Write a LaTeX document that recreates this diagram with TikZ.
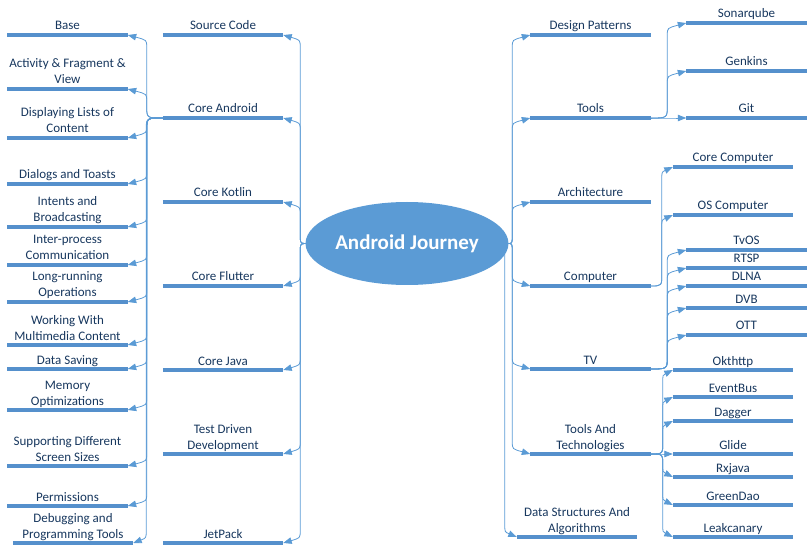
\documentclass[tikz,border=0pt]{standalone}
\usepackage{fontspec}
\setmainfont{Carlito}
\usetikzlibrary{arrows.meta,calc,shapes.geometric}

\definecolor{ink}{HTML}{17375E}
\definecolor{barblue}{HTML}{5590CC}
\definecolor{linkblue}{HTML}{5B9BD5}

\tikzset{
  bar/.style={draw=barblue, line width=4pt},
  topic/.style={anchor=south, align=center, text=ink,
    font=\fontsize{13}{16}\selectfont, inner xsep=0pt, inner ysep=4.8pt,
    text depth=0pt, minimum width=120pt,
    append after command={(\tikzlastnode.south west) edge[bar] (\tikzlastnode.south east)}},
  branch/.style={draw=linkblue, line width=0.8pt, -{Triangle[length=8.5pt,width=6.5pt]},
    to path={let \p1=(\tikztostart), \p2=(\tikztotarget),
      \n1={sign(\y2-(\y1))}, \n2={sign(\x2-(\x1))} in
      (\p1) .. controls ({\x2-(\n2)*#1},{\y1}) .. ({\x2-(\n2)*#1},{\y1+(\n1)*12pt})
      -- ({\x2-(\n2)*#1},{\y2-(\n1)*12pt})
      .. controls ({\x2-(\n2)*#1},{\y2-(\n1)*5pt}) .. (\p2)}},
}

\begin{document}
\begin{tikzpicture}[x=1pt,y=-1pt]
    \useasboundingbox (0,0) rectangle (809,548);
    %% Central topic
    \node[ellipse, fill=linkblue, minimum width=174pt, minimum height=83pt,
      inner sep=0pt, text=white, font=\fontsize{21}{25}\selectfont\bfseries]
      (root) at (407,243.5) {Android Journey};
    %% Left branches
    \node[topic] (source)  at (223,35)  {Source Code};
    \node[topic] (android) at (223,118) {Core Android};
    \node[topic] (kotlin)  at (223,202) {Core Kotlin};
    \node[topic] (flutter) at (223,286) {Core Flutter};
    \node[topic] (java)    at (223,370) {Core Java};
    \node[topic] (tdd)     at (223,454) {Test Driven\\Development};
    \node[topic] (jetpack) at (223,543) {JetPack};
    % Core Android topics
    \node[topic] (base)     at (67.5,35)  {Base};
    \node[topic] (activity) at (67.5,89)  {Activity \& Fragment \&\\View};
    \node[topic] (lists)    at (67.5,138) {Displaying Lists of\\Content};
    \node[topic] (dialogs)  at (67.5,184) {Dialogs and Toasts};
    \node[topic] (intents)  at (67.5,227) {Intents and\\Broadcasting};
    \node[topic] (ipc)      at (67.5,265) {Inter-process\\Communication};
    \node[topic] (longrun)  at (67.5,302) {Long-running\\Operations};
    \node[topic] (media)    at (67.5,345) {Working With\\Multimedia Content};
    \node[topic] (saving)   at (67.5,369) {Data Saving};
    \node[topic] (memory)   at (67.5,410) {Memory\\Optimizations};
    \node[topic] (screens)  at (67.5,466) {Supporting Different\\Screen Sizes};
    \node[topic] (perms)    at (67.5,506) {Permissions};
    \node[topic] (debug)    at (73,543)   {Debugging and\\Programming Tools};
    %% Right branches
    \node[topic] (patterns) at (590.5,35)  {Design Patterns};
    \node[topic] (tools)    at (590.5,118) {Tools};
    \node[topic] (arch)     at (590.5,202) {Architecture};
    \node[topic] (computer) at (590.5,286) {Computer};
    \node[topic] (tv)       at (590.5,369) {TV};
    \node[topic] (tech)     at (590.5,454) {Tools And\\Technologies};
    \node[topic] (dsa)      at (577,537)   {Data Structures And\\Algorithms};
    % Tools topics
    \node[topic] (sonar)   at (746.5,23)  {Sonarqube};
    \node[topic] (genkins) at (746.5,71)  {Genkins};
    \node[topic] (git)     at (746.5,118) {Git};
    % Computer topics
    \node[topic] (corecomp) at (733,167) {Core Computer};
    \node[topic] (oscomp)   at (733,215) {OS Computer};
    % TV topics
    \node[topic] (tvos) at (746.5,250) {TvOS};
    \node[topic] (rtsp) at (746.5,268) {RTSP};
    \node[topic] (dlna) at (746.5,286) {DLNA};
    \node[topic] (dvb)  at (746.5,308) {DVB};
    \node[topic] (ott)  at (746.5,335) {OTT};
    % Tools and technologies topics
    \node[topic] (okhttp)   at (733,370) {Okthttp};
    \node[topic] (eventbus) at (733,397) {EventBus};
    \node[topic] (dagger)   at (733,421) {Dagger};
    \node[topic] (glide)    at (733,454) {Glide};
    \node[topic] (rxjava)   at (733,477) {Rxjava};
    \node[topic] (greendao) at (733,505) {GreenDao};
    \node[topic] (leak)     at (733,537) {Leakcanary};
    %% Connectors
    \path (root.west) edge[branch=17pt] (source.south east)
      edge[branch=17pt] (android.south east) edge[branch=17pt] (kotlin.south east)
      edge[branch=17pt] (flutter.south east) edge[branch=17pt] (java.south east)
      edge[branch=17pt] (tdd.south east) edge[branch=17pt] (jetpack.south east);
    \path (android.south west) edge[branch=19pt] (base.south east)
      edge[branch=19pt] (activity.south east) edge[branch=19pt] (lists.south east)
      edge[branch=19pt] (dialogs.south east) edge[branch=19pt] (intents.south east)
      edge[branch=19pt] (ipc.south east) edge[branch=19pt] (longrun.south east)
      edge[branch=19pt] (media.south east) edge[branch=19pt] (saving.south east)
      edge[branch=19pt] (memory.south east) edge[branch=19pt] (screens.south east)
      edge[branch=19pt] (perms.south east) edge[branch=13pt] (debug.south east);
    \path (root.east) edge[branch=18pt] (patterns.south west)
      edge[branch=18pt] (tools.south west) edge[branch=18pt] (arch.south west)
      edge[branch=18pt] (computer.south west) edge[branch=18pt] (tv.south west)
      edge[branch=18pt] (tech.south west) edge[branch=12pt] (dsa.south west);
    \path (tools.south east) edge[branch=19pt] (sonar.south west)
      edge[branch=19pt] (genkins.south west) edge[branch=19pt] (git.south west);
    \path (computer.south east) edge[branch=11pt] (corecomp.south west)
      edge[branch=11pt] (oscomp.south west);
    \path (tv.south east) edge[branch=19pt] (tvos.south west)
      edge[branch=19pt] (rtsp.south west) edge[branch=19pt] (dlna.south west)
      edge[branch=19pt] (dvb.south west) edge[branch=19pt] (ott.south west);
    \path (tech.south east) edge[branch=10pt] (okhttp.south west)
      edge[branch=10pt] (eventbus.south west) edge[branch=10pt] (dagger.south west)
      edge[branch=10pt] (glide.south west) edge[branch=10pt] (rxjava.south west)
      edge[branch=10pt] (greendao.south west) edge[branch=10pt] (leak.south west);
\end{tikzpicture}
\end{document}
